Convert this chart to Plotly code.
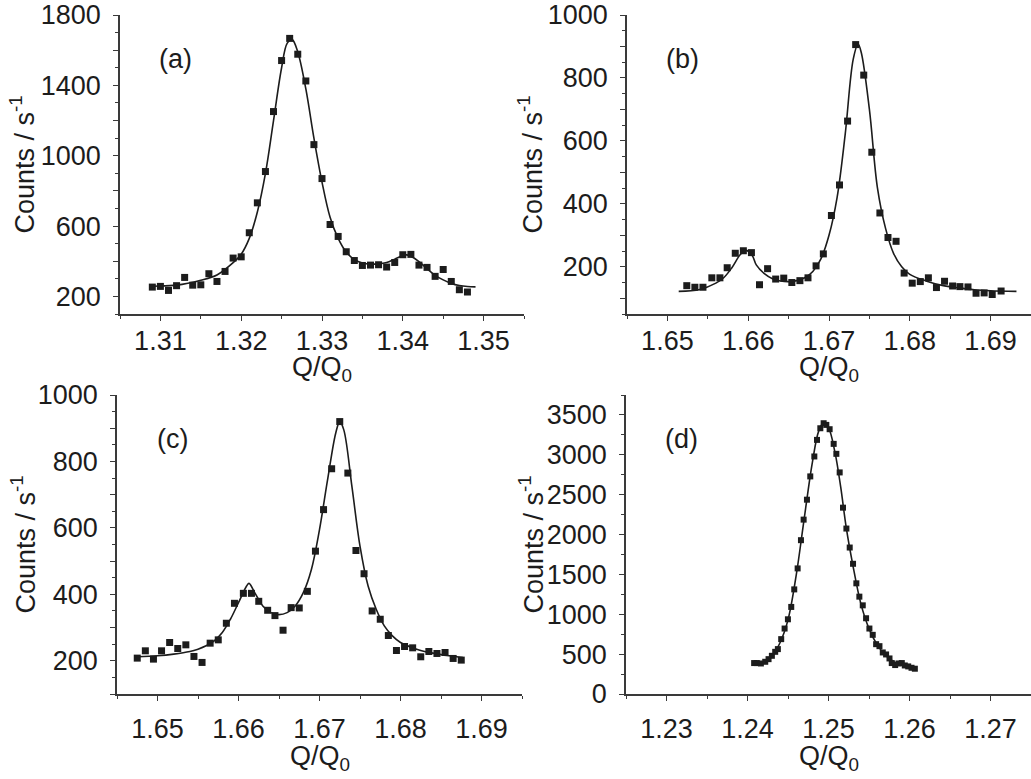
import plotly.graph_objects as go

W, H = 1031, 779

# ---- panel (a) ----
a_q = [1.309, 1.310, 1.311, 1.312, 1.313, 1.314, 1.315, 1.316, 1.317, 1.318,
       1.319, 1.320, 1.321, 1.322, 1.323, 1.324, 1.325, 1.326, 1.327, 1.328,
       1.329, 1.330, 1.331, 1.332, 1.333, 1.334, 1.335, 1.336, 1.337, 1.338,
       1.339, 1.340, 1.341, 1.342, 1.343, 1.344, 1.345, 1.346, 1.347, 1.348]
a_counts = [253, 257, 234, 261, 308, 264, 266, 329, 285, 342,
            418, 425, 562, 732, 910, 1251, 1541, 1667, 1577, 1425,
            1063, 870, 609, 541, 454, 404, 376, 378, 380, 367,
            393, 437, 439, 378, 365, 314, 353, 285, 238, 225]
a_fit_q = [1.3087, 1.309, 1.312, 1.315, 1.317, 1.319, 1.320, 1.321, 1.322, 1.323,
           1.324, 1.325, 1.3257, 1.3263, 1.327, 1.328, 1.329, 1.330, 1.331, 1.332,
           1.333, 1.334, 1.335, 1.336, 1.337, 1.338, 1.339, 1.340, 1.3405, 1.341,
           1.342, 1.343, 1.344, 1.345, 1.346, 1.347, 1.348, 1.349]
a_fit = [256, 258, 264, 292, 322, 392, 440, 530, 680, 900,
         1200, 1500, 1640, 1660, 1590, 1380, 1100, 850, 650, 530,
         452, 410, 390, 384, 385, 393, 412, 432, 436, 428,
         398, 358, 320, 294, 274, 262, 256, 254]

# ---- panel (b) ----
b_q = [1.6524, 1.6534, 1.6544, 1.6555, 1.6565, 1.6574, 1.6584, 1.6594, 1.6604, 1.6614,
       1.6624, 1.6634, 1.6644, 1.6654, 1.6664, 1.6674, 1.6684, 1.6693, 1.6703, 1.6713,
       1.6723, 1.6733, 1.6743, 1.6753, 1.6763, 1.6773, 1.6783, 1.6793, 1.6803, 1.6813,
       1.6823, 1.6833, 1.6843, 1.6853, 1.6862, 1.6872, 1.6882, 1.6892, 1.6902, 1.6913]
b_counts = [140, 135, 135, 165, 165, 197, 243, 251, 245, 143,
            194, 161, 164, 150, 156, 165, 203, 241, 363, 460,
            663, 906, 809, 564, 371, 293, 281, 180, 148, 153,
            165, 134, 154, 139, 137, 136, 116, 117, 112, 123]
b_fit_q = [1.6514, 1.654, 1.656, 1.657, 1.658, 1.659, 1.6597, 1.6605, 1.661, 1.662,
           1.663, 1.664, 1.665, 1.666, 1.667, 1.668, 1.669, 1.670, 1.671, 1.672,
           1.673, 1.6736, 1.674, 1.675, 1.676, 1.677, 1.678, 1.679, 1.680, 1.682,
           1.684, 1.686, 1.688, 1.690, 1.6932]
b_fit = [122, 128, 148, 166, 198, 238, 252, 236, 206, 178,
         162, 155, 153, 156, 165, 185, 225, 300, 420, 620,
         860, 908, 880, 700, 450, 322, 242, 200, 176, 155,
         141, 133, 127, 124, 122]

# ---- panel (c) ----
c_q = [1.6475, 1.6485, 1.6495, 1.6505, 1.6515, 1.6525, 1.6535, 1.6545, 1.6555, 1.6565,
       1.6575, 1.6585, 1.6595, 1.6606, 1.6616, 1.6625, 1.6636, 1.6645, 1.6655, 1.6665,
       1.6675, 1.6685, 1.6695, 1.6705, 1.6715, 1.6725, 1.6735, 1.6745, 1.6755, 1.6765,
       1.6775, 1.6785, 1.6795, 1.6805, 1.6815, 1.6825, 1.6835, 1.6845, 1.6855, 1.6865,
       1.6875]
c_counts = [208, 230, 205, 230, 255, 237, 248, 213, 195, 253,
            263, 313, 373, 403, 403, 379, 352, 336, 292, 360,
            359, 409, 530, 655, 778, 920, 765, 532, 462, 350,
            325, 276, 231, 243, 239, 212, 228, 222, 225, 207,
            202]
c_fit_q = [1.6475, 1.650, 1.652, 1.654, 1.655, 1.656, 1.657, 1.658, 1.659, 1.660,
           1.661, 1.6613, 1.662, 1.663, 1.664, 1.665, 1.666, 1.667, 1.668, 1.669,
           1.670, 1.671, 1.672, 1.6725, 1.673, 1.674, 1.675, 1.676, 1.677, 1.678,
           1.679, 1.680, 1.682, 1.684, 1.686, 1.6877]
c_fit = [212, 215, 220, 228, 235, 245, 260, 285, 325, 375,
         425, 433, 405, 365, 345, 339, 345, 365, 405, 475,
         595, 745, 885, 920, 895, 725, 545, 425, 355, 305,
         275, 255, 235, 223, 215, 210]

# ---- panel (d) ----
d_q = [1.24082, 1.24115, 1.24165, 1.24219, 1.24260, 1.24301, 1.24342, 1.24375, 1.24416, 1.24458,
       1.24499, 1.24540, 1.24577, 1.24619, 1.24660, 1.24693, 1.24734, 1.24775, 1.24825, 1.24858,
       1.24899, 1.24940, 1.24973, 1.25014, 1.25064, 1.25097, 1.25138, 1.25179, 1.25221, 1.25262,
       1.25303, 1.25344, 1.25381, 1.25423, 1.25464, 1.25505, 1.25546, 1.25588, 1.25629, 1.25670,
       1.25711, 1.25753, 1.25781, 1.25823, 1.25864, 1.25905, 1.25942, 1.25984, 1.26025, 1.26066]
d_counts = [388, 388, 383, 404, 437, 479, 529, 563, 688, 821,
            937, 1092, 1312, 1575, 1929, 2187, 2437, 2729, 2979, 3187,
            3333, 3396, 3375, 3321, 3137, 3012, 2779, 2337, 2075, 1837,
            1633, 1388, 1221, 1112, 950, 821, 742, 625, 600, 521,
            496, 446, 388, 363, 383, 388, 358, 346, 329, 317]
d_fit_q = [1.2408, 1.2420, 1.2430, 1.2440, 1.2450, 1.2460, 1.2470, 1.2480, 1.2488, 1.2494,
           1.2500, 1.2508, 1.2515, 1.2522, 1.2530, 1.2540, 1.2550, 1.2560, 1.2570, 1.2580,
           1.2590, 1.2600, 1.2607]
d_fit = [375, 390, 470, 640, 930, 1480, 2200, 2900, 3300, 3400,
         3340, 3030, 2600, 2080, 1620, 1130, 820, 620, 490, 410,
         360, 330, 318]

# y tick labels (only every other major tick is labelled in a-c)
a_ytick = [200, 400, 600, 800, 1000, 1200, 1400, 1600, 1800]
a_ylab = ["200", "", "600", "", "1000", "", "1400", "", "1800"]
bc_ytick = [100, 200, 300, 400, 500, 600, 700, 800, 900, 1000]
bc_ylab = ["", "200", "", "400", "", "600", "", "800", "", "1000"]
d_ytick = [0, 500, 1000, 1500, 2000, 2500, 3000, 3500]
d_ylab = ["0", "500", "1000", "1500", "2000", "2500", "3000", "3500"]

INK = "#1c1c1c"
AXIS = "#3a3a3a"
FONT = "Liberation Sans, Arial, Helvetica, sans-serif"
FS = 27


def px_x(x):
    return x / W


def px_y(y):
    return 1 - y / H


panels = [
    # name, q, counts, fit q, fit, xrange, yrange, tickvals, ticktext, minor y,
    # box (l, r, t, b), marker size, x label standoff, x title offset
    ("(a)", a_q, a_counts, a_fit_q, a_fit, [1.305, 1.355], [100, 1800], a_ytick, a_ylab, 100,
     (120, 524, 15, 314), 7, -3, 55),
    ("(b)", b_q, b_counts, b_fit_q, b_fit, [1.645, 1.695], [50, 1000], bc_ytick, bc_ylab, 50,
     (627, 1031, 15, 314), 7, -3, 55),
    ("(c)", c_q, c_counts, c_fit_q, c_fit, [1.645, 1.695], [100, 1000], bc_ytick, bc_ylab, 50,
     (117, 522, 395, 694), 7, 5, 64),
    ("(d)", d_q, d_counts, d_fit_q, d_fit, [1.225, 1.275], [0, 3750], d_ytick, d_ylab, 250,
     (626, 1031, 395, 694), 6, 5, 64),
]

fig = go.Figure()
annotations = []
layout = {}

for i, (name, q, cnt, fq, fy, xr, yr, tv, tt, ymin, box, msize, xso, xto) in enumerate(panels, start=1):
    l, r, t, b = box
    xa = "x" if i == 1 else f"x{i}"
    ya = "y" if i == 1 else f"y{i}"
    fig.add_trace(go.Scatter(
        x=fq, y=fy, xaxis=xa, yaxis=ya, mode="lines", line_shape="spline",
        line={"color": INK, "width": 1.6}, showlegend=False,
    ))
    fig.add_trace(go.Scatter(
        x=q, y=cnt, xaxis=xa, yaxis=ya, mode="markers",
        marker={"symbol": "square", "size": msize, "color": INK},
        showlegend=False,
    ))
    common = dict(
        showline=True, linecolor=AXIS, linewidth=1.5, showgrid=False, zeroline=False,
        automargin=False, ticklabeloverflow="allow",
        ticks="outside", ticklen=5, tickwidth=1.3, tickcolor=AXIS,
        tickfont={"size": FS, "color": INK, "family": FONT},
    )
    layout["xaxis" if i == 1 else f"xaxis{i}"] = dict(
        common, domain=[px_x(l), px_x(r)], range=xr, anchor=ya,
        ticklabelstandoff=xso,
        tickmode="linear", tick0=1.2, dtick=0.01, tickformat=".2f",
        minor={"dtick": 0.005, "tick0": 1.2, "ticks": "outside", "ticklen": 3,
               "tickcolor": AXIS, "tickwidth": 1.2},
    )
    layout["yaxis" if i == 1 else f"yaxis{i}"] = dict(
        common, domain=[px_y(b), px_y(t)], range=yr, anchor=xa,
        ticklabelstandoff=7,
        tickmode="array", tickvals=tv, ticktext=tt,
        minor={"dtick": ymin, "tick0": 0, "ticks": "outside", "ticklen": 3,
               "tickcolor": AXIS, "tickwidth": 1.2},
    )
    # panel letter
    annotations.append(dict(
        text=name, x=px_x(l + 55), y=px_y(t + 44), xref="paper", yref="paper",
        showarrow=False, font={"size": FS, "color": INK, "family": FONT},
        xanchor="center", yanchor="middle",
    ))
    # x title
    annotations.append(dict(
        text="Q/Q<sub>0</sub>", x=px_x((l + r) / 2), y=px_y(b + xto),
        xref="paper", yref="paper", showarrow=False,
        font={"size": FS, "color": INK, "family": FONT},
        xanchor="center", yanchor="middle",
    ))
    # y title
    ytx = 23 if l < 300 else 531
    annotations.append(dict(
        text="Counts / s<sup>-1</sup>", x=px_x(ytx), y=px_y((t + b) / 2),
        xref="paper", yref="paper", showarrow=False, textangle=-90,
        font={"size": FS, "color": INK, "family": FONT},
        xanchor="center", yanchor="middle",
    ))

fig.update_layout(
    width=W, height=H,
    margin={"l": 0, "r": 0, "t": 0, "b": 0, "autoexpand": False},
    paper_bgcolor="white", plot_bgcolor="white",
    font={"family": FONT, "color": INK},
    annotations=annotations,
    **layout,
)

# drop the default page margin so the figure sits flush in the window
fig.write_html(
    "out.html",
    config={"displayModeBar": False},
    post_script="document.body.style.margin = '0';",
)
